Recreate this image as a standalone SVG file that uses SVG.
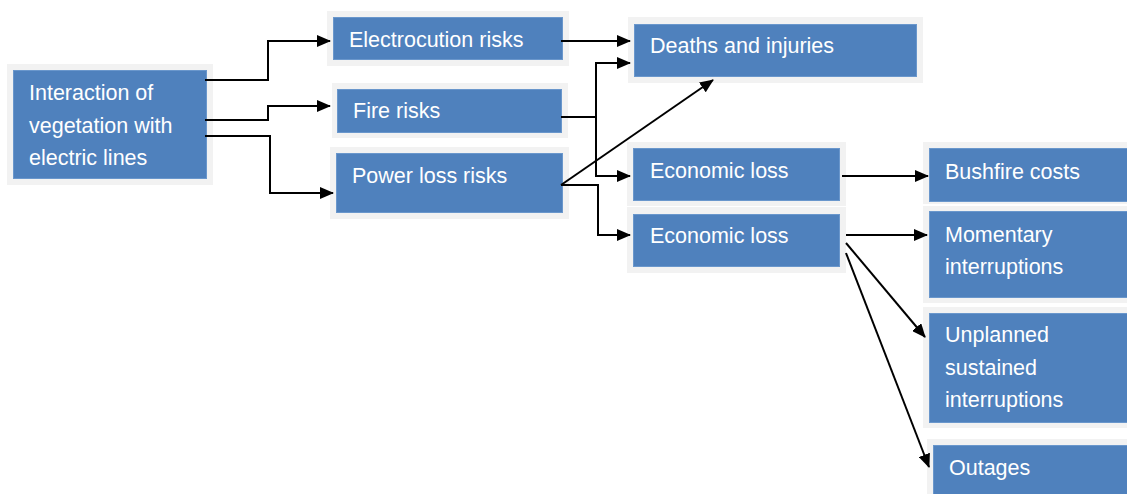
<svg xmlns="http://www.w3.org/2000/svg" width="1127" height="494" viewBox="0 0 1127 494">
<defs>
<style>
.frame{fill:#F2F2F2}
.box{fill:#4F81BD;stroke:#6A97CC;stroke-width:1}
.lbl{font-family:"Liberation Sans",Arial,sans-serif;font-size:21.5px;fill:#FFFFFF}
.con{fill:none;stroke:#000000;stroke-width:2}
</style>
<marker id="ah" markerUnits="userSpaceOnUse" markerWidth="14" markerHeight="12" refX="13" refY="6" orient="auto" viewBox="0 0 14 12">
<path d="M0,0 L14,6 L0,12 z" fill="#000000"/>
</marker>
</defs>
<rect width="1127" height="494" fill="#FFFFFF"/>
<g id="n-interaction">
<rect class="frame" x="7" y="64" width="206" height="121"/>
<rect class="box" x="13.5" y="70.5" width="193" height="108"/>
<text class="lbl" x="29" y="100">Interaction of</text>
<text class="lbl" x="29" y="133">vegetation with</text>
<text class="lbl" x="29" y="165">electric lines</text>
</g>
<g id="n-electrocution">
<rect class="frame" x="327" y="11" width="242" height="55"/>
<rect class="box" x="333.5" y="17.5" width="229" height="42"/>
<text class="lbl" x="349" y="47">Electrocution risks</text>
</g>
<g id="n-fire">
<rect class="frame" x="332" y="83" width="236" height="55"/>
<rect class="box" x="337.5" y="89.5" width="224" height="43"/>
<text class="lbl" x="353" y="118">Fire risks</text>
</g>
<g id="n-power">
<rect class="frame" x="330" y="147" width="239" height="72"/>
<rect class="box" x="336.5" y="153.5" width="226" height="59"/>
<text class="lbl" x="352" y="183">Power loss risks</text>
</g>
<g id="n-deaths">
<rect class="frame" x="628" y="17" width="295" height="66"/>
<rect class="box" x="634.5" y="24.5" width="282" height="52"/>
<text class="lbl" x="650" y="53">Deaths and injuries</text>
</g>
<g id="n-econ1">
<rect class="frame" x="627" y="142" width="219" height="64"/>
<rect class="box" x="633.5" y="148.5" width="206" height="52"/>
<text class="lbl" x="650" y="178">Economic loss</text>
</g>
<g id="n-econ2">
<rect class="frame" x="627" y="207" width="219" height="66"/>
<rect class="box" x="633.5" y="214.5" width="206" height="52"/>
<text class="lbl" x="650" y="243">Economic loss</text>
</g>
<g id="n-bushfire">
<rect class="frame" x="923" y="142" width="210" height="62"/>
<rect class="box" x="929.5" y="148.5" width="205" height="53"/>
<text class="lbl" x="945" y="179">Bushfire costs</text>
</g>
<g id="n-momentary">
<rect class="frame" x="923" y="206" width="210" height="97"/>
<rect class="box" x="929.5" y="211.5" width="205" height="86"/>
<text class="lbl" x="945" y="242">Momentary</text>
<text class="lbl" x="945" y="274">interruptions</text>
</g>
<g id="n-unplanned">
<rect class="frame" x="923" y="307" width="210" height="121"/>
<rect class="box" x="929.5" y="313.5" width="205" height="109"/>
<text class="lbl" x="945" y="342">Unplanned</text>
<text class="lbl" x="945" y="375">sustained</text>
<text class="lbl" x="945" y="407">interruptions</text>
</g>
<g id="n-outages">
<rect class="frame" x="927" y="439" width="210" height="60"/>
<rect class="box" x="933.5" y="445.5" width="205" height="55"/>
<text class="lbl" x="949" y="475">Outages</text>
</g>
<g id="connectors">
<polyline class="con" points="205,80 268,80 268,41 330,41" marker-end="url(#ah)"/>
<polyline class="con" points="205,120 268,120 268,106 330,106" marker-end="url(#ah)"/>
<polyline class="con" points="205,136 270,136 270,193 333,193" marker-end="url(#ah)"/>
<line class="con" x1="561" y1="41" x2="630" y2="41" marker-end="url(#ah)"/>
<polyline class="con" points="561,117 596,117"/>
<polyline class="con" points="596,117 596,63 630,63" marker-end="url(#ah)"/>
<polyline class="con" points="596,117 596,176 630,176" marker-end="url(#ah)"/>
<line class="con" x1="561" y1="185" x2="713" y2="80" marker-end="url(#ah)"/>
<polyline class="con" points="561,185 598,185 598,235 630,235" marker-end="url(#ah)"/>
<line class="con" x1="842" y1="176" x2="928" y2="176" marker-end="url(#ah)"/>
<line class="con" x1="846" y1="235" x2="927" y2="235" marker-end="url(#ah)"/>
<line class="con" x1="846" y1="243" x2="925" y2="337" marker-end="url(#ah)"/>
<line class="con" x1="846" y1="253" x2="929" y2="467" marker-end="url(#ah)"/>
</g>
</svg>
